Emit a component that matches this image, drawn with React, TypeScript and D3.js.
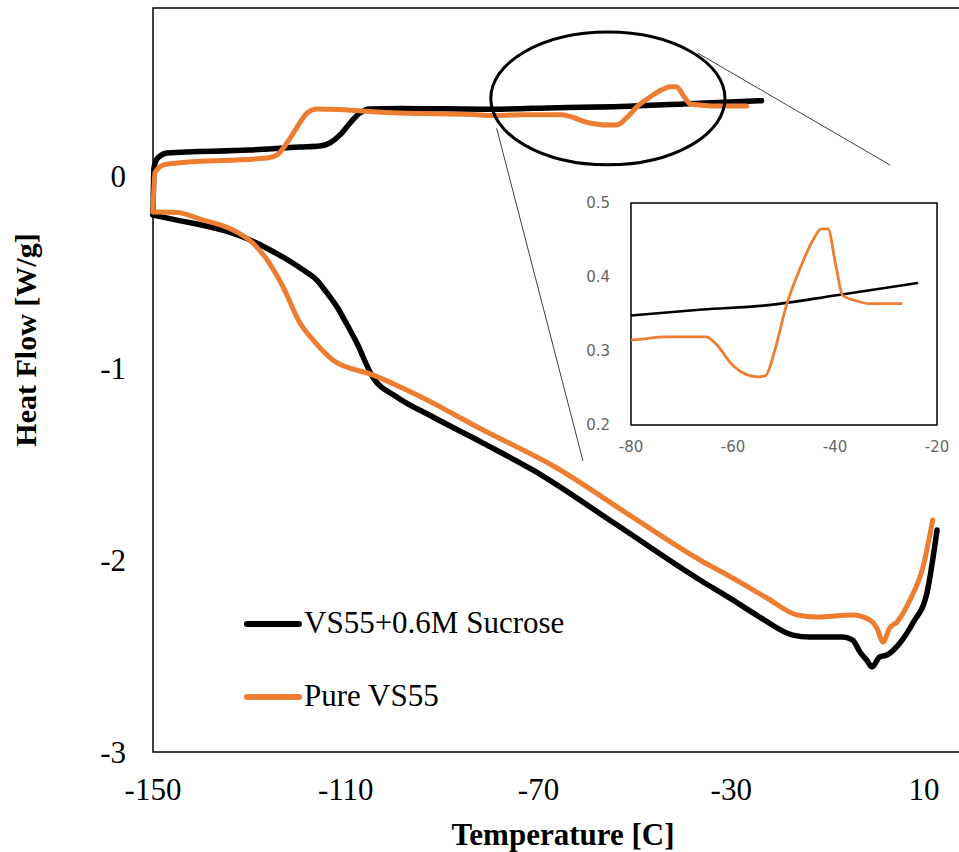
import React from "react";
import * as d3 from "d3";

// Heat flow [W/g] vs temperature [C], each series stored as its two branches
const sucroseUpper: [number, number][] = [
  [-149.8, 0.042], [-149.0, 0.094], [-147.1, 0.12], [-129.9, 0.135], [-119.5, 0.151],
  [-115.4, 0.156], [-113.3, 0.172], [-111.2, 0.214], [-109.1, 0.276], [-107.1, 0.328],
  [-105.0, 0.349], [-98.8, 0.352], [-90, 0.350], [-80, 0.348], [-66, 0.356],
  [-53, 0.362], [-40, 0.375], [-23.7, 0.392],
];
const sucroseLower: [number, number][] = [
  [-150, -0.203], [-146.5, -0.222], [-131.3, -0.318], [-126.1, -0.38], [-121.0, -0.453],
  [-118.5, -0.495], [-116.0, -0.542], [-113.9, -0.609], [-111.8, -0.682], [-109.8, -0.771],
  [-107.7, -0.87], [-104.4, -1.047], [-99.4, -1.151], [-91.9, -1.255],
  [-81.5, -1.391], [-71.2, -1.531], [-53.7, -1.818], [-36.5, -2.104], [-29.7, -2.208],
  [-24.1, -2.297], [-17.2, -2.391], [-13.7, -2.401], [-6.8, -2.401], [-4.8, -2.417],
  [-3.3, -2.479], [-1.9, -2.521], [-0.8, -2.557], [0.8, -2.505], [2.3, -2.495],
  [5.0, -2.432], [7.7, -2.328], [10.6, -2.172], [12.7, -1.844],
];
const pureUpper: [number, number][] = [
  [-149.6, 0.016], [-147.9, 0.057], [-145.0, 0.068], [-126.3, 0.094], [-124.3, 0.109],
  [-122.2, 0.172], [-120.1, 0.255], [-118.0, 0.328], [-116.0, 0.349], [-98.8, 0.328],
  [-82.2, 0.318], [-80, 0.315], [-73.2, 0.319], [-65.3, 0.319], [-63.4, 0.31],
  [-60.1, 0.281], [-58.2, 0.271], [-54.9, 0.265], [-53.6, 0.267], [-51.6, 0.306],
  [-49.6, 0.36], [-47.0, 0.409], [-44.3, 0.45], [-42.7, 0.465], [-41.4, 0.465],
  [-39.8, 0.414], [-38.5, 0.375], [-35.9, 0.368], [-33.3, 0.364], [-26.8, 0.364],
];
const pureLower: [number, number][] = [
  [-150, -0.1875], [-145.0, -0.19], [-140.2, -0.225], [-133.4, -0.281], [-129.3, -0.349],
  [-126.3, -0.4375], [-123.0, -0.578], [-119.5, -0.766], [-116.8, -0.854], [-112.7, -0.958],
  [-104.4, -1.036], [-95.2, -1.141], [-81.5, -1.323], [-66.2, -1.521], [-51.5, -1.76],
  [-36.5, -2.0], [-29.7, -2.094], [-22.6, -2.198], [-16.4, -2.286], [-12.2, -2.297],
  [-4.8, -2.286], [-1.2, -2.313], [0.2, -2.354], [1.5, -2.427], [2.9, -2.354],
  [4.4, -2.323], [7.1, -2.208], [9.8, -2.036], [11.8, -1.792],
];

const seriesNames = ["VS55+0.6M Sucrose", "Pure VS55"];
const seriesColors = ["#000000", "#ED7D31"];

const xTicks = [-150, -110, -70, -30, 10];
const yTicks = [0, -1, -2, -3];
const insetXTicks = [-80, -60, -40, -20];
const insetYTicks = [0.5, 0.4, 0.3, 0.2];

const W = 959;
const H = 852;

const x = d3.scaleLinear().domain([-150, 10]).range([153, 924]);
const y = d3.scaleLinear().domain([-3, 0]).range([752, 176]);
const yTop = 0.875;

const xi = d3.scaleLinear().domain([-80, -20]).range([631, 937]);
const yi = d3.scaleLinear().domain([0.2, 0.5]).range([425, 203]);

const mainLine = d3
  .line<[number, number]>()
  .x((d) => x(d[0]))
  .y((d) => y(d[1]))
  .curve(d3.curveMonotoneX);

const insetLine = d3
  .line<[number, number]>()
  .x((d) => xi(d[0]))
  .y((d) => yi(d[1]))
  .curve(d3.curveMonotoneX);

const serif = "Times New Roman, Liberation Serif, serif";
const sans = "DejaVu Sans";

// Highlight ellipse around the transition region (data units)
const ellipseCenter: [number, number] = [-55.6, 0.404];
const ellipseRx = 24.3;
const ellipseRy = 0.346;

export default function App() {
  const series = [
    { name: seriesNames[0], color: seriesColors[0], upper: sucroseUpper, lower: sucroseLower, width: 5.5 },
    { name: seriesNames[1], color: seriesColors[1], upper: pureUpper, lower: pureLower, width: 5 },
  ];
  const x0 = x.range()[0];
  const yT = y(yTop);
  const yB = y(-3);

  const ecx = x(ellipseCenter[0]);
  const ecy = y(ellipseCenter[1]);
  const erx = x(ellipseCenter[0] + ellipseRx) - ecx;
  const ery = ecy - y(ellipseCenter[1] + ellipseRy);

  // Inset chart area (plot box plus its labels)
  const insetArea = { left: 583, top: 165, right: 950, bottom: 461 };

  return (
    <svg
      width={W}
      height={H}
      fontFamily={serif}
      style={{ position: "absolute", left: 0, top: 0, background: "#fff" }}
    >
      <rect width={W} height={H} fill="#fff" />

      {/* plot frame: left, top, bottom */}
      <path
        d={`M${W + 5},${yT}H${x0}V${yB}H${W + 5}`}
        fill="none"
        stroke="#000"
        strokeWidth={1.5}
      />

      {/* y ticks */}
      {yTicks.map((t) => (
        <text key={t} x={126} y={y(t)} dy="0.35em" textAnchor="end" fontSize={31}>
          {t}
        </text>
      ))}
      {/* x ticks */}
      {xTicks.map((t) => (
        <text key={t} x={x(t)} y={800} textAnchor="middle" fontSize={31}>
          {t}
        </text>
      ))}

      <text x={563} y={845} textAnchor="middle" fontWeight="bold" fontSize={31}>
        Temperature [C]
      </text>
      <text
        transform={`translate(36,340) rotate(-90)`}
        textAnchor="middle"
        fontWeight="bold"
        fontSize={30}
      >
        Heat Flow [W/g]
      </text>

      {/* data curves: lower branch, then upper branch rising from the same start */}
      {series.map((s) => (
        <g key={s.name} fill="none" stroke={s.color} strokeWidth={s.width} strokeLinejoin="round" strokeLinecap="round">
          <path d={mainLine(s.lower) || ""} />
          <path d={mainLine([s.lower[0], ...s.upper]) || ""} />
        </g>
      ))}

      {/* legend */}
      {series.map((s, i) => (
        <g key={s.name}>
          <line
            x1={247}
            x2={299}
            y1={624 + i * 73}
            y2={624 + i * 73}
            stroke={s.color}
            strokeWidth={6}
            strokeLinecap="round"
          />
          <text x={304} y={633 + i * 73} fontSize={31} fontWeight="normal">
            {s.name}
          </text>
        </g>
      ))}

      {/* highlight ellipse and connectors */}
      <ellipse cx={ecx} cy={ecy} rx={erx} ry={ery} fill="none" stroke="#000" strokeWidth={3} />
      <line
        x1={ecx - erx * 0.95}
        y1={ecy + ery * 0.45}
        x2={insetArea.left}
        y2={insetArea.bottom}
        stroke="#404040"
        strokeWidth={1}
      />
      <line
        x1={ecx + erx * 0.77}
        y1={ecy - ery * 0.68}
        x2={890}
        y2={insetArea.top}
        stroke="#404040"
        strokeWidth={1}
      />

      {/* inset */}
      <defs>
        <clipPath id="insetClip">
          <rect x={xi(-80)} y={yi(0.5)} width={xi(-20) - xi(-80)} height={yi(0.2) - yi(0.5)} />
        </clipPath>
      </defs>
      <rect
        x={xi(-80)}
        y={yi(0.5)}
        width={xi(-20) - xi(-80)}
        height={yi(0.2) - yi(0.5)}
        fill="#fff"
        stroke="#000"
        strokeWidth={1.5}
      />
      <g clipPath="url(#insetClip)">
        {series.map((s) => (
          <path
            key={s.name}
            d={insetLine(s.upper.filter((d) => d[0] >= -83)) || ""}
            fill="none"
            stroke={s.color}
            strokeWidth={s.color === "#000000" ? 2.6 : 2.8}
            strokeLinejoin="round"
          />
        ))}
      </g>
      {insetYTicks.map((t) => (
        <text key={t} x={610} y={yi(t)} dy="0.36em" textAnchor="end" fontFamily={sans} fontSize={15} fill="#666">
          {t.toFixed(1)}
        </text>
      ))}
      {insetXTicks.map((t) => (
        <text key={t} x={xi(t)} y={452} textAnchor="middle" fontFamily={sans} fontSize={15} fill="#666">
          {t}
        </text>
      ))}
    </svg>
  );
}
